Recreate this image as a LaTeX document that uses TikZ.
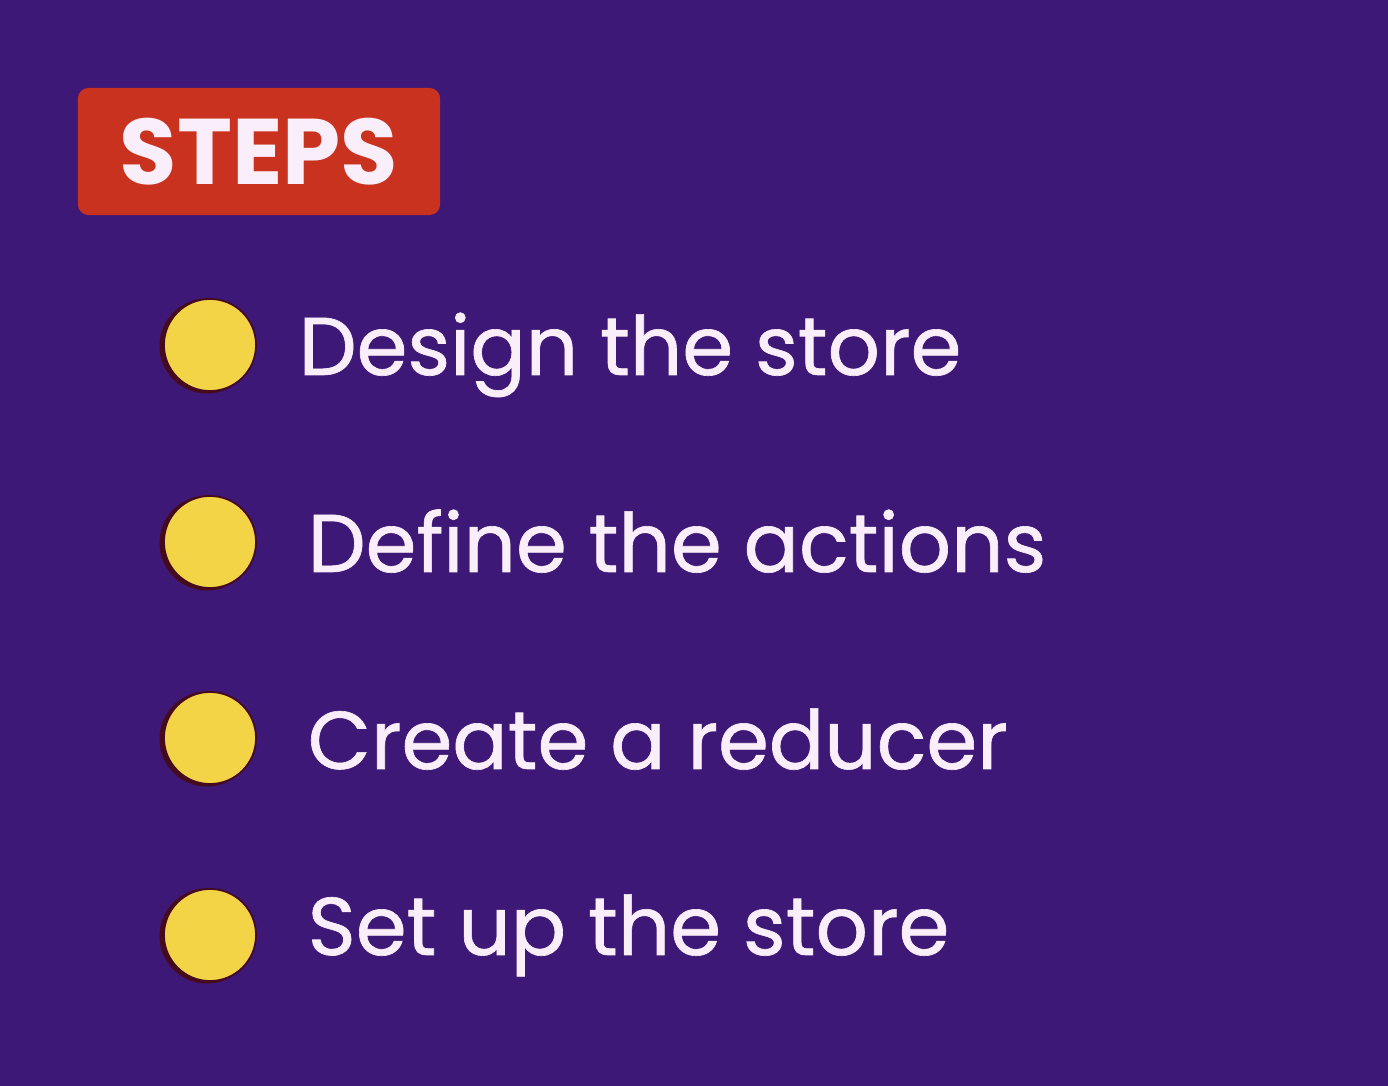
\documentclass[tikz,border=0pt]{standalone}
\usepackage{fontspec}
\setmainfont{Poppins}
\newfontfamily\stepfont[FakeBold=0.8]{Poppins}
\usepackage{tikz}
\usetikzlibrary{positioning}
\definecolor{bgpurple}{RGB}{61,24,118}
\definecolor{tagred}{RGB}{200,50,30}
\definecolor{dotyellow}{RGB}{242,212,70}
\definecolor{dotrim}{RGB}{70,10,30}
\definecolor{textwhite}{RGB}{250,238,250}

\begin{document}
\begin{tikzpicture}[
		x=0.01cm,y=-0.01cm,
		tag/.style={
			fill=tagred,
			rectangle,
			rounded corners=3pt,
			minimum width=3.62cm,
			minimum height=1.27cm,
			inner sep=0pt,
			text=textwhite,
			font=\fontsize{26.5pt}{30pt}\selectfont\bfseries
		},
		dot/.style={
			circle,
			fill=dotyellow,
			draw=dotrim,
			line width=0.5pt,
			minimum size=0.92cm,
			inner sep=0pt
		},
		dotshade/.style={
			circle,
			fill=dotrim,
			minimum size=0.95cm,
			inner sep=0pt
		},
		label/.style={
			anchor=base west,
			inner sep=0pt,
			text=textwhite,
			font=\stepfont\fontsize{23.3pt}{28pt}\selectfont
		}
		]
		% Background
		\fill[bgpurple] (0,0) rectangle (1388,1086);
		\useasboundingbox (0,0) rectangle (1388,1086);
		
		% Title
		\node[tag] (steps) at (259,151.5) {STEPS};
		
		% Bullets (dark rim on the left, then the yellow dot)
		\node[dotshade] (shade1) at (207,346) {};
		\node[dotshade] (shade2) at (207,543) {};
		\node[dotshade] (shade3) at (207,739) {};
		\node[dotshade] (shade4) at (207,936) {};
		\node[dot] (dot1) at (210,345) {};
		\node[dot] (dot2) at (210,542) {};
		\node[dot] (dot3) at (210,738) {};
		\node[dot] (dot4) at (210,935) {};
		
		% Step texts
		\node[label] (step1) at (298,375) {Design the store};
		\node[label] (step2) at (307,572) {Define the actions};
		\node[label] (step3) at (307,769) {Create a reducer};
		\node[label] (step4) at (307,955) {Set up the store};
	\end{tikzpicture}
\end{document}
